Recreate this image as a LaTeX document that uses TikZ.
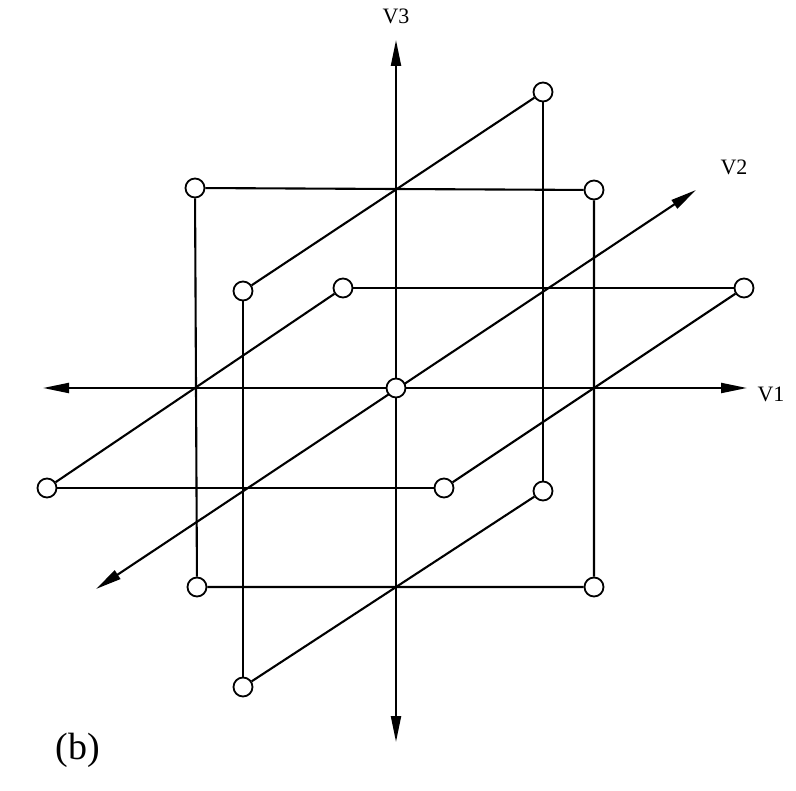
\documentclass[tikz,border=0pt]{standalone}
\usepackage{fontspec}
\setmainfont{Liberation Serif}
\usetikzlibrary{arrows.meta}
\begin{document}
\begin{tikzpicture}[x=1pt,y=-1pt,
  pt/.style={circle,draw,fill=white,line width=1.8pt,minimum size=19pt,inner sep=0pt},
  ln/.style={line width=2.1pt},
  axis/.style={line width=2.1pt,{Triangle[length=26pt,width=10pt]}-{Triangle[length=26pt,width=10pt]}},
  lab/.style={font=\fontsize{22}{25}\selectfont}]
\useasboundingbox (0,0) rectangle (796,791);
% axis end points
\coordinate (x1a) at (43,388);
\coordinate (x1b) at (747,388);
\coordinate (x3a) at (396,742);
\coordinate (x3b) at (396,40);
\coordinate (x2a) at (96,589);
\coordinate (x2b) at (696,190);
\draw[axis] (x1a) -- (x1b);
\draw[axis] (x3a) -- (x3b);
\draw[axis] (x2a) -- (x2b);
% points
\node[pt] (a) at (543,92) {};
\node[pt] (b) at (195,188) {};
\node[pt] (c) at (594,190) {};
\node[pt] (d) at (243,291) {};
\node[pt] (e) at (343,288) {};
\node[pt] (f) at (744,288) {};
\node[pt] (g) at (47,488) {};
\node[pt] (h) at (444,488) {};
\node[pt] (i) at (543,491) {};
\node[pt] (j) at (197,587) {};
\node[pt] (k) at (594,587) {};
\node[pt] (l) at (243,687) {};
% edges
\draw[ln] (d) -- (a);
\draw[ln] (g) -- (e);
\draw[ln] (h) -- (f);
\draw[ln] (l) -- (i);
\draw[ln] (a) -- (i);
\draw[ln] (d) -- (l);
\draw[ln] (e) -- (f);
\draw[ln] (g) -- (h);
\draw[ln] (b) -- (c) -- (k) -- (j) -- (b);
\node[pt] (o) at (396,388) {};
% labels
\node[lab] (v3) at (396,16) {V3};
\node[lab] (v2) at (734,167) {V2};
\node[lab] (v1) at (771,394) {V1};
\node[font=\fontsize{38}{42}\selectfont] (bl) at (78,750) {(b)};
\end{tikzpicture}
\end{document}
